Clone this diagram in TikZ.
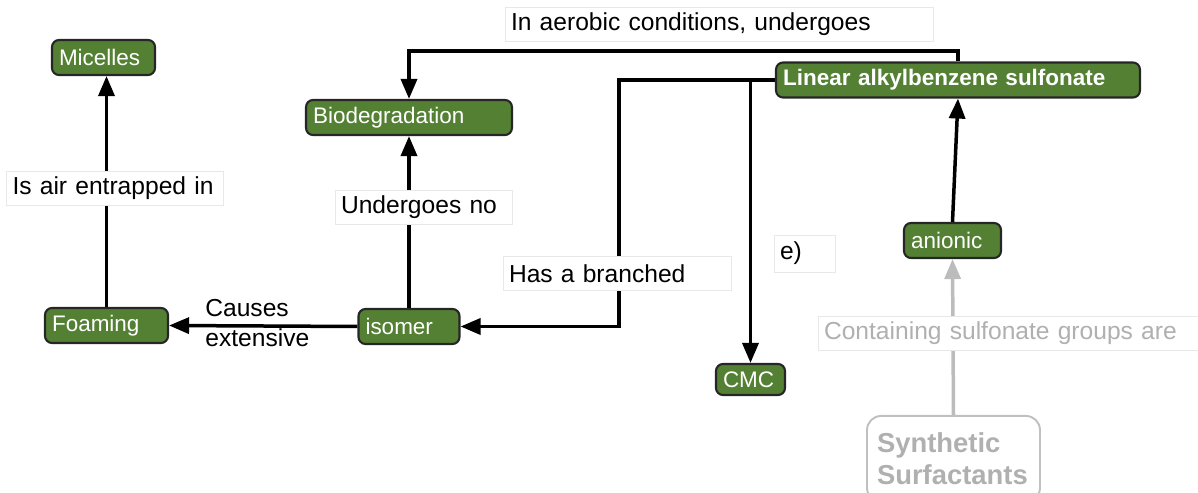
\documentclass[tikz,border=0pt]{standalone}
\usepackage{fontspec}
\setmainfont{Liberation Sans}
\usetikzlibrary{arrows.meta, positioning, calc}

\definecolor{conceptgreen}{RGB}{84,128,52}
\definecolor{fadedgray}{RGB}{176,176,176}
\newcommand{\conceptfont}{\fontsize{12.8}{15}\selectfont}
\newcommand{\linkfont}{\fontsize{14}{17}\selectfont}

\begin{document}
\begin{tikzpicture}[
        x=0.02cm, y=-0.02cm,
        concept/.style={
            draw=black!85,
            line width=1.2pt,
            rounded corners=4pt,
            fill=conceptgreen,
            text=white,
            align=left,
            minimum height=0.7cm,
            inner xsep=0.14cm,
            font=\conceptfont
        },
        linklabel/.style={
            draw=gray!18,
            fill=white,
            align=left,
            minimum height=0.68cm,
            inner xsep=0.12cm,
            font=\linkfont
        },
        faded/.style={
            draw=fadedgray!80,
            line width=1.1pt,
            rounded corners=8pt,
            fill=white,
            text=fadedgray,
            align=left,
            inner xsep=0.2cm,
            font=\fontsize{15.6}{18.2}\selectfont\bfseries
        },
        arrow/.style={-{Triangle[length=0.4cm, width=0.32cm]}, line width=0.07cm},
        fadedarrow/.style={arrow, draw=fadedgray!85, fill=fadedgray!85}
    ]

        \useasboundingbox (0,0) rectangle (1198,493);

        % Concepts
        \node[concept, text width=1.78cm] (micelles) at (103.5,57.5) {Micelles};
        \node[concept, text width=3.84cm] (biodeg) at (409,117.5) {Biodegradation};
        \node[concept, text width=7.0cm, font=\conceptfont\bfseries]
            (las) at (958,80) {Linear alkylbenzene sulfonate};
        \node[concept, text width=2.18cm] (foaming) at (106.5,325.5) {Foaming};
        \node[concept, text width=1.74cm] (isomer) at (409,326.5) {isomer};
        \node[concept, text width=1.10cm, minimum height=0.62cm] (cmc) at (750.5,379.5) {CMC};
        \node[concept, text width=1.66cm] (anionic) at (952.5,240.5) {anionic};

        % Concept de départ (estompé)
        \node[faded, anchor=north, text width=3.06cm, minimum height=1.72cm]
            (synth) at (953.5,415) {Synthetic\\Surfactants};

        % Liaisons
        \coordinate (aerotop) at (700,51);
        \coordinate (branchx) at (619,200);

        \draw[arrow] (foaming.north) -- (foaming.north |- micelles.south);
        \draw[arrow] (isomer.north) -- (biodeg.south);
        \draw[arrow] (las.north) |- (aerotop) -| (biodeg.north);
        \draw[arrow] (las.west) -| (branchx) |- (isomer.east);
        \draw[arrow] (las.west -| cmc.north) -- (cmc.north);
        \draw[arrow] (isomer.west) -- (foaming.east);
        \draw[arrow] (anionic.north) -- (las.south);
        \draw[fadedarrow] (synth.north) -- (anionic.south);

        % Étiquettes des liaisons
        \node[linklabel, text width=8.32cm] (aerolab) at (719,24.5)
            {In aerobic conditions, undergoes};
        \node[linklabel, text width=4.1cm] (airlab) at (115,188.5)
            {Is air entrapped in};
        \node[linklabel, text width=3.3cm] (nolab) at (423.5,207.5)
            {Undergoes no};
        \node[linklabel, text width=4.32cm] (branchlab) at (617,273.5)
            {Has a branched};
        \node[linklabel, text width=0.98cm, minimum height=0.74cm] (elab) at (804.5,253.5)
            {e)};
        \node[linklabel, text width=7.36cm, text=fadedgray] (sulfolab) at (1008,333.5)
            {Containing sulfonate groups are};
        \node[anchor=west, inner sep=0pt, align=left, font=\linkfont]
            (causeslab) at (205,323) {Causes\\extensive};

    \end{tikzpicture}
\end{document}
